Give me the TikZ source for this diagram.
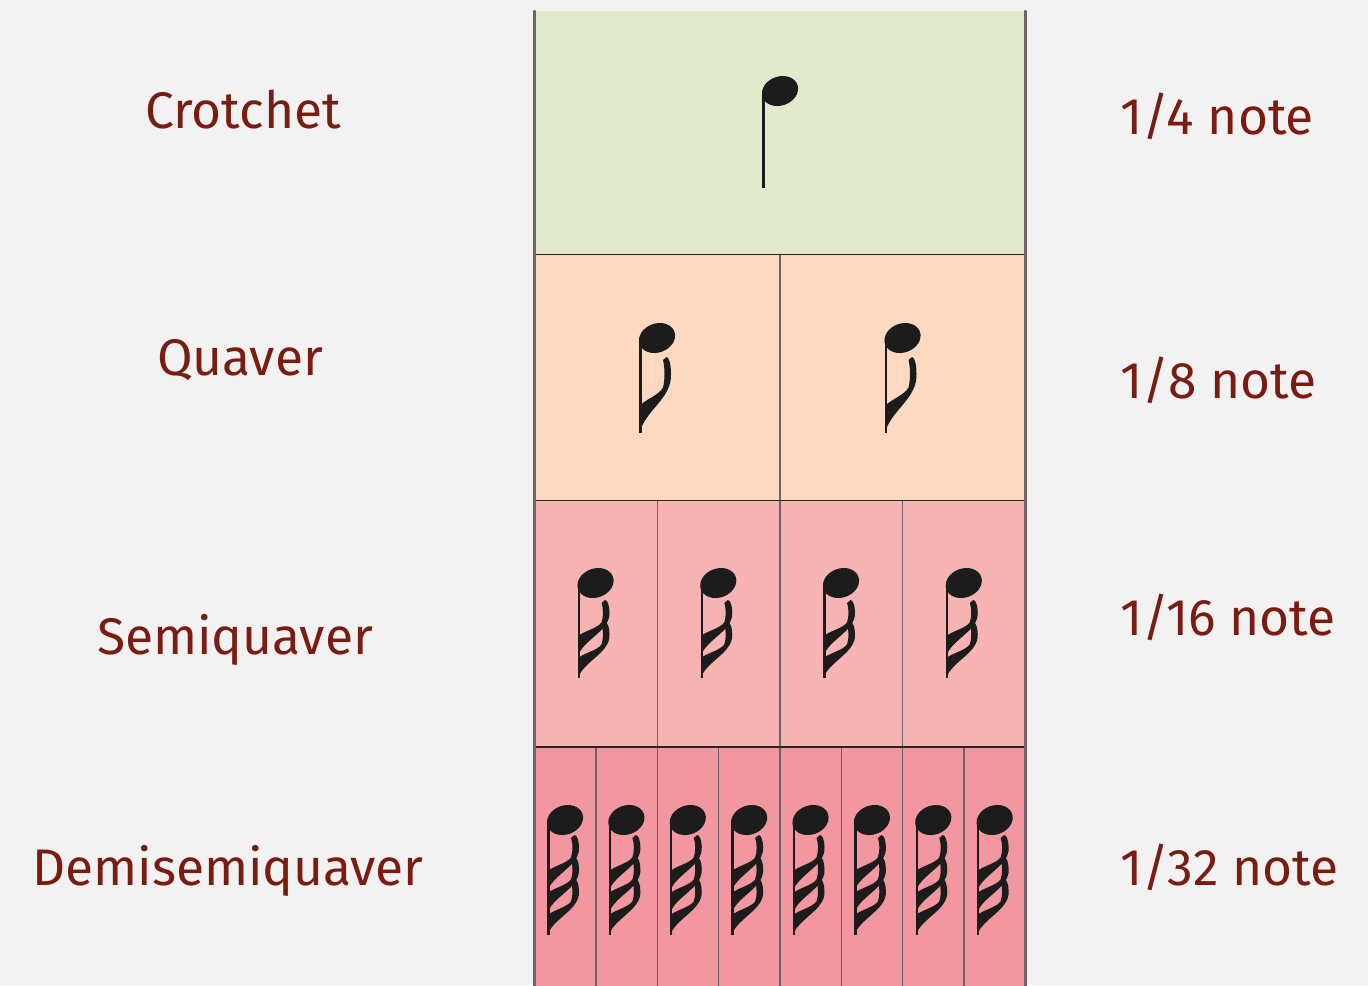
\documentclass[tikz,border=0pt]{standalone}
\usepackage{fontspec}
\setmainfont{Fira Sans}
\usetikzlibrary{calc}
\definecolor{bg}{HTML}{F2F2F2}
\definecolor{crot}{HTML}{E1EBCB}
\definecolor{quav}{HTML}{FCD9C0}
\definecolor{semi}{HTML}{F7B4B3}
\definecolor{demi}{HTML}{F296A0}
\definecolor{ink}{HTML}{7A1C12}
\definecolor{notec}{HTML}{1C1C1C}
\definecolor{edge}{HTML}{6E6464}
\definecolor{rule}{HTML}{2A2424}

% one flag below the head: top offset, height
\newcommand{\noteflag}[2]{%
  \fill[notec] (-17.5,{#1+#2}) .. controls (-12,{#1+0.7*#2}) and (15,{#1+0.55*#2}) .. (14,{#1+0.22*#2})
    .. controls (14,{#1+0.1*#2}) and (12,#1) .. (9.5,#1) -- (6,{#1+3})
    .. controls (8,{#1+0.15*#2}) and (8,{#1+0.3*#2}) .. (6,{#1+0.4*#2})
    .. controls (2,{#1+0.5*#2}) and (-10,{#1+0.55*#2}) .. (-15.5,{#1+0.62*#2}) -- cycle;}

\begin{document}
\begin{tikzpicture}[x=0.02cm,y=-0.02cm,line cap=round,line join=round,
  lbl/.style={font=\fontsize{29.3}{34}\selectfont,text=ink,inner sep=0pt},
  head/.style={notec,rotate=20},
  stem/.style={notec,line width=1.3pt,line cap=butt},
  divider/.style={edge,line width=0.8pt},
  rowrule/.style={rule,line width=0.8pt}]
  \fill[bg] (0,0) rectangle (1368,985);
  \useasboundingbox (0,0) rectangle (1368,985);

  % ---- coloured rows ----
  \fill[crot] (534.5,11) rectangle (1025.5,254.5);
  \fill[quav] (534.5,254.5) rectangle (1025.5,500.5);
  \fill[semi] (534.5,500.5) rectangle (1025.5,747);
  \fill[demi] (534.5,747) rectangle (1025.5,993);

  % ---- cell dividers ----
  \draw[divider] (780,254.5) -- (780,500.5);
  \foreach \x in {657.25,780,902.75}{\draw[divider] (\x,500.5) -- (\x,747);}
  \foreach \x in {595.9,657.25,718.6,780,841.4,902.75,964.1}{\draw[divider] (\x,747) -- (\x,993);}
  \foreach \y in {254.5,500.5,747}{\draw[rowrule] (534.5,\y) -- (1025.5,\y);}
  \draw[edge,line width=1.3pt] (534.5,11) -- (534.5,993);
  \draw[edge,line width=1.3pt] (1025.5,11) -- (1025.5,993);

  % ---- crotchet ----
  \begin{scope}[shift={(780,91)}]
    \fill[head] (0,0) ellipse [x radius=18.5,y radius=14.5];
    \draw[stem] (-16.5,2) -- (-16.5,97);
  \end{scope}

  % ---- quavers ----
  \foreach \i in {0,1}{
    \begin{scope}[shift={({657+245.5*\i},338)}]
      \fill[head] (0,0) ellipse [x radius=18.5,y radius=14.5];
      \draw[stem] (-16.5,2) -- (-16.5,95);
      \noteflag{19}{76}
    \end{scope}}

  % ---- semiquavers ----
  \foreach \i in {0,...,3}{
    \begin{scope}[shift={({595.5+122.75*\i},583)}]
      \fill[head] (0,0) ellipse [x radius=18.5,y radius=14.5];
      \draw[stem] (-16.5,2) -- (-16.5,95);
      \foreach \t in {17,39}{\noteflag{\t}{56}}
    \end{scope}}

  % ---- demisemiquavers ----
  \foreach \i in {0,...,7}{
    \begin{scope}[shift={({565+61.375*\i},820)}]
      \fill[head] (0,0) ellipse [x radius=18.5,y radius=14.5];
      \draw[stem] (-16.5,2) -- (-16.5,115);
      \foreach \t in {15,37,59}{\noteflag{\t}{56}}
    \end{scope}}

  % ---- names ----
  \node[lbl,anchor=base] (crotchet) at (243,128) {Crotchet};
  \node[lbl,anchor=base] (quaver) at (240,375) {Quaver};
  \node[lbl,anchor=base] (semiquaver) at (235,654) {Semiquaver};
  \node[lbl,anchor=base] (demisemiquaver) at (228,885) {Demisemiquaver};

  % ---- fractions ----
  \node[lbl,anchor=base west] (quarter) at (1120,134) {1/4 note};
  \node[lbl,anchor=base west] (eighth) at (1120,398) {1/8 note};
  \node[lbl,anchor=base west] (sixteenth) at (1120,635) {1/16 note};
  \node[lbl,anchor=base west] (thirtysecond) at (1120,885) {1/32 note};
\end{tikzpicture}
\end{document}
